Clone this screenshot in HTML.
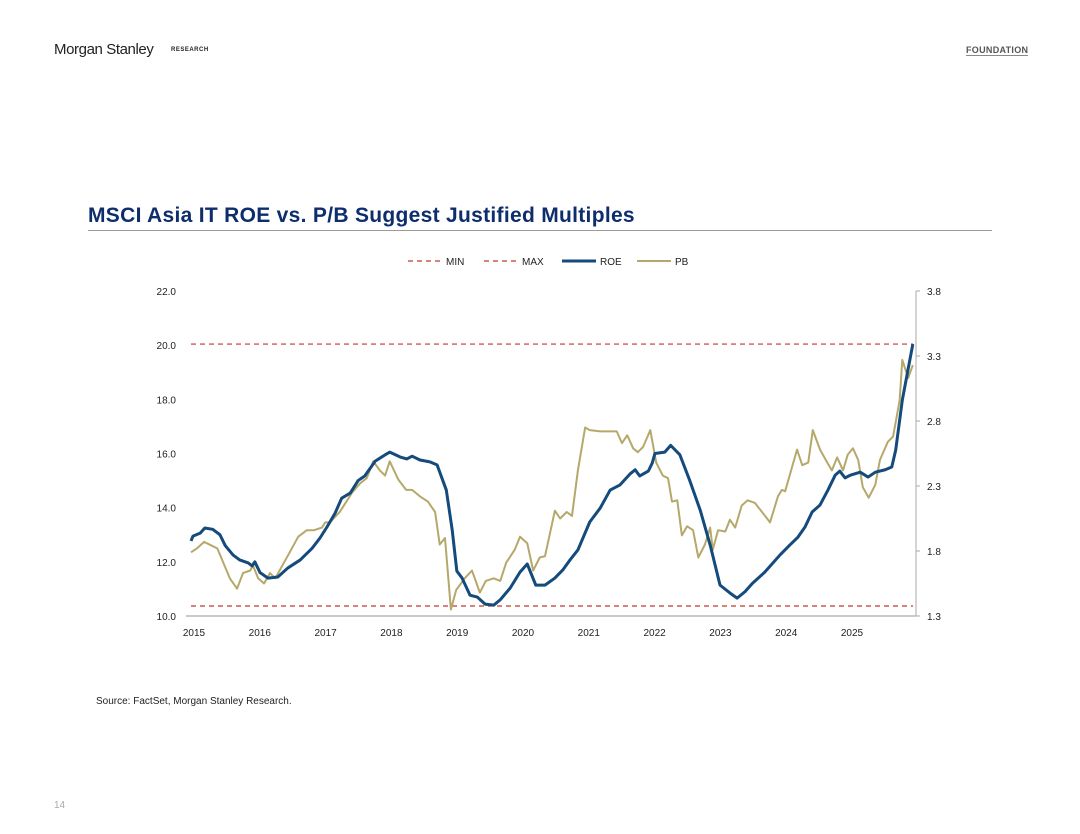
<!DOCTYPE html>
<html><head><meta charset="utf-8"><style>
body{margin:0;background:#fff;width:1080px;height:834px;overflow:hidden;font-family:"Liberation Sans",Arial,sans-serif;position:relative}
.abs{position:absolute}
</style></head><body>
<div class="abs" style="left:54px;top:41px;font-size:15px;color:#222;letter-spacing:-0.4px">Morgan Stanley</div>
<div class="abs" style="left:171px;top:47px;font-size:6px;font-weight:bold;color:#222;letter-spacing:0.5px">RESEARCH</div>
<div class="abs" style="left:966px;top:45px;font-size:9px;font-weight:bold;color:#555;letter-spacing:0.3px;border-bottom:1px solid #888">FOUNDATION</div>
<div class="abs" style="left:88px;top:204px;font-size:21px;font-weight:bold;color:#0d2d6c;letter-spacing:0.3px">MSCI Asia IT ROE vs. P/B Suggest Justified Multiples</div>
<div class="abs" style="left:88px;top:230px;width:904px;height:1px;background:#9a9a9a"></div>
<div class="abs" style="left:96px;top:696px;font-size:10px;color:#222">Source: FactSet, Morgan Stanley Research.</div>
<div class="abs" style="left:54px;top:800px;font-size:10px;color:#aaa">14</div>
<svg class="abs" style="left:0;top:0" width="1080" height="834" id="chart"></svg>
<script>
const roeT=[0,.03,.14,.21,.33,.44,.52,.64,.74,.87,.93,.97,1.05,1.17,1.32,1.47,1.66,1.84,1.96,2.07,2.19,2.29,2.42,2.54,2.64,2.80,2.95,3.02,3.18,3.28,3.36,3.48,3.63,3.74,3.88,3.97,4.04,4.12,4.24,4.35,4.47,4.60,4.70,4.85,5.00,5.11,5.24,5.38,5.53,5.65,5.76,5.88,6.06,6.22,6.37,6.52,6.67,6.75,6.82,6.95,7.01,7.05,7.20,7.29,7.43,7.58,7.74,7.89,8.04,8.19,8.30,8.42,8.53,8.72,8.95,9.10,9.22,9.33,9.44,9.56,9.68,9.79,9.86,9.94,10.02,10.17,10.29,10.40,10.55,10.65,10.71,10.81,10.97];
const roeV=[12.77,12.95,13.06,13.25,13.2,13.0,12.6,12.25,12.07,11.96,11.85,12.0,11.6,11.4,11.44,11.77,12.07,12.5,12.88,13.3,13.8,14.35,14.54,15.0,15.17,15.72,15.95,16.05,15.87,15.8,15.9,15.76,15.69,15.58,14.65,13.17,11.66,11.4,10.77,10.7,10.44,10.4,10.6,11.03,11.62,11.92,11.14,11.14,11.4,11.7,12.07,12.44,13.47,13.99,14.65,14.84,15.24,15.4,15.17,15.35,15.65,16.0,16.05,16.3,15.95,15.0,13.9,12.62,11.14,10.85,10.66,10.9,11.2,11.62,12.25,12.62,12.9,13.28,13.84,14.1,14.65,15.2,15.35,15.1,15.2,15.31,15.13,15.31,15.4,15.5,16.13,17.97,20.04];
const pbT=[0,.09,.20,.32,.40,.59,.70,.79,.90,.94,1.02,1.11,1.20,1.28,1.50,1.63,1.76,1.87,1.99,2.04,2.11,2.26,2.45,2.57,2.67,2.77,2.87,2.95,3.02,3.15,3.27,3.36,3.48,3.60,3.71,3.78,3.86,3.95,4.03,4.16,4.27,4.39,4.48,4.60,4.70,4.79,4.92,5.00,5.11,5.20,5.30,5.38,5.53,5.61,5.71,5.79,5.88,5.99,6.06,6.22,6.47,6.55,6.63,6.72,6.79,6.87,6.98,7.07,7.17,7.25,7.31,7.39,7.46,7.54,7.63,7.71,7.81,7.89,7.93,8.01,8.12,8.19,8.27,8.37,8.46,8.57,8.77,8.80,8.92,8.98,9.03,9.21,9.29,9.38,9.45,9.56,9.67,9.74,9.82,9.91,9.98,10.06,10.14,10.21,10.30,10.40,10.47,10.59,10.67,10.77,10.81,10.90,10.97];
const pbV=[1.79,1.82,1.87,1.84,1.82,1.59,1.51,1.63,1.65,1.69,1.59,1.55,1.63,1.59,1.79,1.91,1.96,1.96,1.98,2.02,2.02,2.1,2.25,2.32,2.36,2.49,2.42,2.38,2.49,2.35,2.27,2.27,2.22,2.18,2.1,1.85,1.9,1.35,1.5,1.59,1.65,1.48,1.57,1.59,1.57,1.71,1.81,1.91,1.86,1.65,1.75,1.76,2.11,2.05,2.1,2.07,2.42,2.75,2.73,2.72,2.72,2.63,2.69,2.59,2.56,2.6,2.73,2.48,2.38,2.36,2.18,2.19,1.92,1.99,1.96,1.75,1.85,1.98,1.81,1.96,1.95,2.04,1.98,2.15,2.19,2.17,2.04,2.02,2.22,2.27,2.26,2.58,2.46,2.48,2.73,2.58,2.48,2.42,2.52,2.42,2.54,2.59,2.5,2.29,2.21,2.31,2.5,2.64,2.68,2.96,3.27,3.13,3.23];
const minV=10.37, maxV=20.04;
const years=["2015","2016","2017","2018","2019","2020","2021","2022","2023","2024","2025"];
const leftTicks=["10.0","12.0","14.0","16.0","18.0","20.0","22.0"];
const rightTicks=["1.3","1.8","2.3","2.8","3.3","3.8"];
const NS="http://www.w3.org/2000/svg";
const svg=document.getElementById('chart');
const X=t=>191+t*65.8;
const YL=v=>616-(v-10)*(325/12);
const YR=v=>616-(v-1.3)*130;
function mk(tag,attrs,txt){const e=document.createElementNS(NS,tag);for(const k in attrs)e.setAttribute(k,attrs[k]);if(txt!=null)e.textContent=txt;svg.appendChild(e);return e;}
let e;
e=mk('line',{x1:186,x2:916,y1:616,y2:616,stroke:'#aaa','stroke-width':1.2});


e=mk('line',{x1:916,x2:916,y1:291,y2:616,stroke:'#aaa','stroke-width':1});


years.forEach((y,i)=>{e=mk('text',{x:X(i)+3,y:636,'font-size':10,'text-anchor':'middle',fill:'#222','font-family':'Liberation Sans, sans-serif'},y);

});
leftTicks.forEach(s=>{e=mk('text',{x:176,y:YL(parseFloat(s))+4,'font-size':10,'text-anchor':'end',fill:'#222','font-family':'Liberation Sans, sans-serif'},s);

});
rightTicks.forEach(s=>{const y=YR(parseFloat(s));mk('line',{x1:916,x2:920,y1:y,y2:y,stroke:'#aaa'});
e=mk('text',{x:927,y:y+4,'font-size':10,fill:'#222','font-family':'Liberation Sans, sans-serif'},s);

});
e=mk('line',{x1:191,x2:913,y1:YL(minV),y2:YL(minV),stroke:'#c0392b','stroke-width':1.2,'stroke-dasharray':'5,4'});


e=mk('line',{x1:191,x2:913,y1:YL(maxV),y2:YL(maxV),stroke:'#c0392b','stroke-width':1.2,'stroke-dasharray':'5,4'});


e=mk('polyline',{points:pbT.map((t,i)=>X(t)+','+YR(pbV[i])).join(' '),fill:'none',stroke:'#b5a86a','stroke-width':2,'stroke-linejoin':'round'});


e=mk('polyline',{points:roeT.map((t,i)=>X(t)+','+YL(roeV[i])).join(' '),fill:'none',stroke:'#144a7c','stroke-width':3,'stroke-linejoin':'round'});


const legend=[["MIN",408,'#c0392b',true,1.2],["MAX",484,'#c0392b',true,1.2],["ROE",562,'#144a7c',false,3],["PB",637,'#b5a86a',false,2]];
legend.forEach(([l,x,c,d,w])=>{const g=mk('g',{});


const ln=document.createElementNS(NS,'line');ln.setAttribute('x1',x);ln.setAttribute('x2',x+34);ln.setAttribute('y1',261);ln.setAttribute('y2',261);ln.setAttribute('stroke',c);ln.setAttribute('stroke-width',w);if(d)ln.setAttribute('stroke-dasharray','5,4');g.appendChild(ln);
const tx=document.createElementNS(NS,'text');tx.setAttribute('x',x+38);tx.setAttribute('y',265);tx.setAttribute('font-size',10);tx.setAttribute('fill','#222');tx.setAttribute('font-family','Liberation Sans, sans-serif');tx.textContent=l;g.appendChild(tx);});
</script>
</body></html>
